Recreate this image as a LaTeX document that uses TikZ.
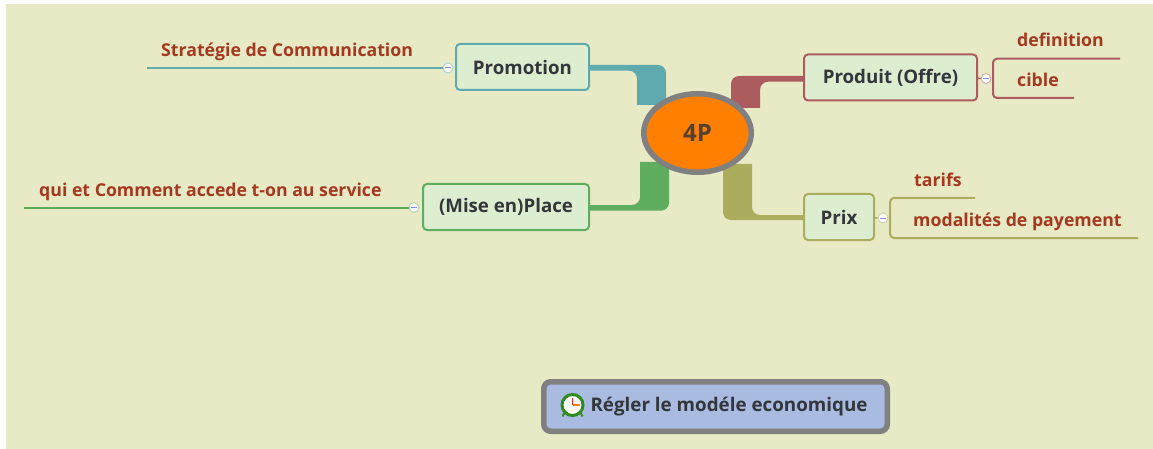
\documentclass[tikz,border=0pt]{standalone}
\usepackage{fontspec}
\setmainfont{Open Sans}
\usetikzlibrary{positioning,shapes.geometric,backgrounds}

\definecolor{paper}{HTML}{E8E9C5}
\definecolor{promocol}{HTML}{5FAAAE}
\definecolor{placecol}{HTML}{5FAD5F}
\definecolor{produitcol}{HTML}{AC5C5E}
\definecolor{prixcol}{HTML}{ABAC5C}
\definecolor{leafcol}{HTML}{A5391F}
\definecolor{textcol}{HTML}{33363A}
\definecolor{orangecol}{HTML}{FF8000}
\definecolor{boxcol}{HTML}{DCEDD0}
\definecolor{bluecol}{HTML}{A9BBE1}
\definecolor{framecol}{HTML}{808080}
\definecolor{clockcol}{HTML}{2E8B1E}

\begin{document}
\begin{tikzpicture}[
  x=1pt, y=-1pt,
  topic/.style={ellipse, draw=framecol, line width=5.5pt, fill=orangecol, inner sep=0pt, minimum width=107.5pt, minimum height=78.5pt, text=textcol!85!orangecol, font=\bfseries\fontsize{24}{28}\selectfont},
  branch/.style={rectangle, rounded corners=4pt, line width=2pt, fill=boxcol, text=textcol, inner sep=0pt, minimum height=46pt, font=\bfseries\fontsize{18.7}{22}\selectfont},
  floating/.style={rectangle, rounded corners=7pt, draw=framecol, line width=5.5pt, fill=bluecol, text=textcol, inner sep=0pt, minimum width=343.5pt, minimum height=49.5pt, font=\bfseries\fontsize{18.8}{22}\selectfont},
  leaf/.style={text=leafcol, inner sep=0pt, anchor=base west, font=\bfseries\fontsize{17.7}{21}\selectfont},
  collapser/.style={circle, line width=1pt, fill=white, inner sep=0pt, minimum size=10pt, path picture={\draw[blue!45!white, line width=1pt] ([xshift=-3pt]path picture bounding box.center) -- ([xshift=3pt]path picture bounding box.center);}},
  subline/.style={line width=2pt}
]

\useasboundingbox (0,0) rectangle (1153,449);

% Main topic and branches
\node[topic] (main) at (697.5,133) {\raisebox{-2pt}{4P}};
\node[branch, draw=promocol, minimum width=133pt] (promotion) at (522.5,67) {\raisebox{-1pt}{Promotion}};
\node[branch, draw=placecol, minimum width=166pt] (place) at (506,207) {\raisebox{-1pt}{(Mise en)Place}};
\node[branch, draw=produitcol, minimum width=173pt] (produit) at (890.5,77.5) {\raisebox{-1pt}{Produit (Offre)}};
\node[branch, draw=prixcol, minimum width=70pt] (prix) at (839,217) {\raisebox{-1pt}{Prix}};

% Feet of the feeders
\coordinate (promofoota) at ([shift={(-31.5,-28)}]main.center);
\coordinate (promofootb) at ([shift={(-60.5,-28)}]main.center);
\coordinate (placefoota) at ([shift={(-57.5,29)}]main.center);
\coordinate (placefootb) at ([shift={(-28.5,29)}]main.center);
\coordinate (produitfoota) at ([shift={(62.5,-25)}]main.center);
\coordinate (produitfootb) at ([shift={(33.5,-25)}]main.center);
\coordinate (prixfoota) at ([shift={(54.5,31)}]main.center);
\coordinate (prixfootb) at ([shift={(25.5,31)}]main.center);

% Paper and thick feeders, behind the topic
\begin{pgfonlayer}{background}
\fill[white] (0,0) rectangle (1153,449);
\fill[paper] (6,4) rectangle (1153,449);
\fill[promocol] ([yshift=2pt]promotion.east) [rounded corners=8pt] -- ([yshift=2pt]promotion.east -| promofoota) [sharp corners] -- (promofoota) -- (promofootb) [rounded corners=8pt] -- ([yshift=-3.7pt]promotion.east -| promofootb) [sharp corners] -- ([yshift=-3.7pt]promotion.east) -- cycle;
\fill[placecol] ([yshift=2pt]place.east) [rounded corners=8pt] -- ([yshift=2pt]place.east -| placefoota) [sharp corners] -- (placefoota) -- (placefootb) [rounded corners=8pt] -- ([yshift=-3.7pt]place.east -| placefootb) [sharp corners] -- ([yshift=-3.7pt]place.east) -- cycle;
\fill[produitcol] ([yshift=-4.2pt]produit.west) [rounded corners=8pt] -- ([yshift=-4.2pt]produit.west -| produitfoota) [sharp corners] -- (produitfoota) -- (produitfootb) [rounded corners=8pt] -- ([yshift=1.5pt]produit.west -| produitfootb) [sharp corners] -- ([yshift=1.5pt]produit.west) -- cycle;
\fill[prixcol] ([yshift=2pt]prix.west) [rounded corners=8pt] -- ([yshift=2pt]prix.west -| prixfoota) [sharp corners] -- (prixfoota) -- (prixfootb) [rounded corners=8pt] -- ([yshift=-3pt]prix.west -| prixfootb) [sharp corners] -- ([yshift=-3pt]prix.west) -- cycle;
\end{pgfonlayer}

% Collapsers
\node[collapser, draw=promocol!50, left=1.5pt of promotion, yshift=-1pt] (promomin) {};
\node[collapser, draw=placecol!50, left=2.5pt of place, yshift=-0.5pt] (placemin) {};
\node[collapser, draw=produitcol!50, right=2.5pt of produit, yshift=-1pt] (produitmin) {};
\node[collapser, draw=prixcol!50, right=2.5pt of prix, yshift=-1pt] (prixmin) {};

% Leaves
\node[leaf] (strategie) at (161,56.5) {Stratégie de Communication};
\node[leaf] (qui) at (39,196.5) {qui et Comment accede t-on au service};
\node[leaf] (definition) at (1017,46.5) {definition};
\node[leaf] (cible) at (1017,86.5) {cible};
\node[leaf] (tarifs) at (914,186.5) {tarifs};
\node[leaf] (modalites) at (913,226.5) {modalités de payement};

% Leaf lines
\coordinate (strategieend) at (147,68);
\coordinate (quiend) at (24,207.5);
\coordinate (definitionend) at (1120,58.7);
\coordinate (cibleend) at (1074,98);
\coordinate (produitfork) at (993,78.5);
\coordinate (tarifsend) at (975,198);
\coordinate (modalitesend) at (1138,238);
\coordinate (prixfork) at (890,218);

\draw[subline, promocol] (promomin) -- (strategieend);
\draw[subline, placecol] (placemin) -- (quiend);
\draw[subline, produitcol, line width=1.5pt] (produit) -- (produitmin);
\draw[subline, prixcol, line width=1.5pt] (prix) -- (prixmin);
\draw[subline, produitcol, rounded corners=4pt] (definitionend) -| (produitfork) |- (cibleend);
\draw[subline, prixcol, rounded corners=4pt] (tarifsend) -| (prixfork) |- (modalitesend);

% Floating topic
\node[floating] (modele) at (715.5,406.5) {\hspace{27pt}Régler le modéle economique};

% Clock icon
\node[circle, draw=clockcol, line width=3pt, fill=white, inner sep=0pt, minimum size=21pt] (clock) at (572.5,405) {};
\draw[clockcol, line width=2pt] (clock.south west) -- ++(-1.5,3);
\draw[clockcol, line width=2pt] (clock.south east) -- ++(1.5,3);
\draw[red!70!orange, line width=1.2pt] (clock.center) -- ++(0,-7);
\draw[orange, line width=1.2pt] (clock.center) -- ++(7,0);

\end{tikzpicture}
\end{document}
